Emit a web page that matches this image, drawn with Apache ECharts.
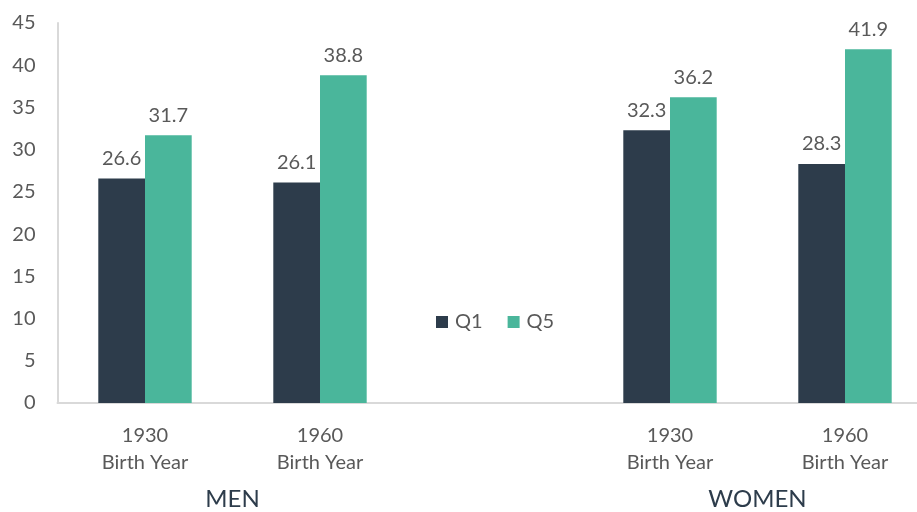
<!DOCTYPE html>
<html>
<head>
<meta charset="utf-8">
<script src="https://cdn.jsdelivr.net/npm/echarts@6/dist/echarts.min.js"></script>
<style>
  html, body { margin: 0; padding: 0; background: #fff; }
  #chart { width: 917px; height: 512px; }
</style>
</head>
<body>
<div id="chart"></div>
<script>
var categories = ['1930\nBirth Year', '1960\nBirth Year', '', '1930\nBirth Year', '1960\nBirth Year'];
var q1 = [26.6, 26.1, null, 32.3, 28.3];
var q5 = [31.7, 38.8, null, 36.2, 41.9];
var groups = [
  { name: 'MEN', from: 0, to: 1 },
  { name: 'WOMEN', from: 3, to: 4 }
];

var FONT = 'Lato, "Open Sans", sans-serif';
var TEXT = '#595959';

var myChart = echarts.init(document.getElementById('chart'));

function barLabel() {
  return {
    show: true,
    position: 'top',
    distance: 10,
    color: TEXT,
    fontSize: 20,
    fontFamily: FONT,
    formatter: function (p) { return p.value.toFixed(1); }
  };
}

var option = {
  backgroundColor: '#fff',
  animation: false,
  grid: { left: 57.5, top: 23, width: 875, height: 380, outerBoundsMode: 'none', containLabel: false },
  legend: {
    data: ['Q1', 'Q5'],
    left: 431,
    top: 307,
    itemWidth: 12,
    itemHeight: 12,
    itemGap: 25,
    icon: 'rect',
    textStyle: { color: TEXT, fontSize: 20, fontFamily: FONT, padding: [0, 0, 0, 2] }
  },
  xAxis: {
    type: 'category',
    data: categories,
    axisLine: { lineStyle: { color: '#d9d9d9', width: 2 } },
    axisTick: { show: false },
    axisLabel: {
      color: TEXT,
      fontSize: 20,
      fontFamily: FONT,
      lineHeight: 27,
      margin: 19,
      interval: 0
    }
  },
  yAxis: {
    type: 'value',
    min: 0,
    max: 45,
    interval: 5,
    splitLine: { show: false },
    axisLine: { show: true, lineStyle: { color: '#d9d9d9', width: 2 } },
    axisTick: { show: false },
    axisLabel: { color: TEXT, fontSize: 20, fontFamily: FONT, margin: 22 }
  },
  series: [
    {
      name: 'Q1',
      type: 'bar',
      data: q1,
      barWidth: 46.7,
      barGap: '0%',
      itemStyle: { color: '#2d3c4b' },
      label: barLabel()
    },
    {
      name: 'Q5',
      type: 'bar',
      data: q5,
      barWidth: 46.7,
      barGap: '0%',
      itemStyle: { color: '#4ab69b' },
      label: barLabel()
    }
  ]
};

myChart.setOption(option);

// group titles under the paired categories
var groupText = groups.map(function (g) {
  var x1 = myChart.convertToPixel({ xAxisIndex: 0 }, g.from);
  var x2 = myChart.convertToPixel({ xAxisIndex: 0 }, g.to);
  return {
    type: 'text',
    x: (x1 + x2) / 2,
    y: 499,
    style: {
      text: g.name,
      fill: '#2d3c4b',
      fontSize: 24,
      fontFamily: FONT,
      align: 'center',
      verticalAlign: 'middle'
    }
  };
});
myChart.setOption({ graphic: groupText });
</script>
</body>
</html>
